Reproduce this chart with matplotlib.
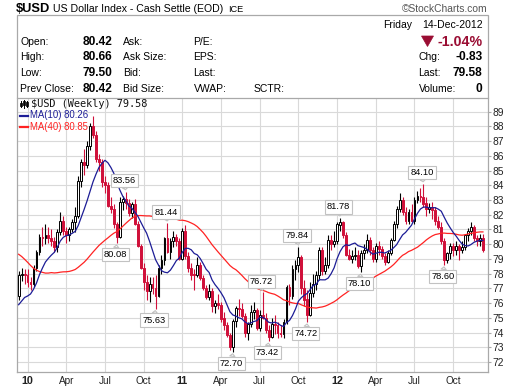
import matplotlib
matplotlib.use('Agg')
import matplotlib.pyplot as plt
import numpy as np
import pandas as pd
from matplotlib.patches import Rectangle, Polygon
from matplotlib.lines import Line2D

plt.rcParams['font.family'] = ['Liberation Sans', 'DejaVu Sans']

W, H = 516, 389

# ---------------- data (weekly candles, Monday-dated) ----------------
start_date = '2009-12-14'

opens = [76.5, 77.9, 78.0, 77.9, 77.4, 77.3, 78.4, 79.5, 80.5, 80.4,
         80.6, 80.4, 80.2, 79.8, 80.8, 81.6, 80.9, 80.6, 81.0, 81.5,
         81.9, 84.3, 85.6, 85.4, 86.7, 88.0, 87.4, 85.8, 85.6, 84.2,
         84.0, 82.6, 82.4, 81.4, 80.5, 82.9, 83.1, 82.8, 82.1, 82.7,
         81.4, 79.9, 78.4, 77.4, 76.8, 77.3, 77.0, 76.5, 78.4, 78.9,
         80.4, 79.5, 80.2, 80.5, 80.2, 79.0, 80.9, 79.2, 78.4, 78.0,
         77.9, 78.6, 77.7, 77.0, 76.4, 76.8, 75.8, 76.0, 75.9, 75.0,
         74.5, 73.8, 73.0, 74.8, 75.7, 75.6, 75.1, 74.0, 74.6, 75.4,
         75.5, 74.3, 75.2, 75.0, 74.2, 73.7, 74.6, 74.5, 74.0, 73.9,
         74.7, 77.1, 76.5, 78.3, 78.6, 79.1, 77.0, 76.3, 75.2, 76.7,
         77.3, 77.9, 79.6, 78.2, 78.6, 80.3, 80.0, 80.2, 81.3, 81.5,
         80.6, 79.3, 79.0, 79.2, 79.3, 78.5, 79.4, 79.6, 80.3, 79.6,
         79.0, 79.9, 79.7, 79.2, 78.8, 79.4, 80.3, 81.4, 82.4, 83.0,
         82.2, 81.6, 82.2, 81.6, 83.0, 83.3, 83.2, 82.8, 82.4, 82.5,
         82.3, 81.6, 81.2, 80.2, 78.9, 79.4, 79.9, 79.6, 79.9, 79.6,
         79.8, 80.6, 80.9, 81.2, 80.4, 80.2, 80.42]

highs = [78.2, 78.4, 78.3, 78.3, 77.8, 78.6, 79.6, 80.7, 81.2, 81.4,
         81.2, 81.0, 80.5, 81.0, 82.2, 81.9, 81.2, 81.2, 81.7, 82.5,
         84.6, 85.8, 86.5, 87.0, 88.2, 88.71, 87.7, 86.1, 85.8, 84.6,
         84.2, 83.2, 82.7, 81.5, 83.2, 83.3, 83.56, 83.1, 82.9, 83.1,
         81.6, 80.0, 78.7, 77.9, 77.8, 77.8, 77.9, 78.6, 79.3, 80.5,
         81.44, 80.4, 80.9, 80.7, 80.4, 81.1, 81.3, 79.5, 78.7, 78.3,
         79.1, 78.8, 77.9, 77.2, 77.3, 77.0, 76.2, 76.6, 76.1, 75.4,
         74.7, 74.0, 74.9, 75.8, 76.3, 76.0, 75.3, 74.7, 75.9, 76.1,
         75.7, 75.5, 76.72, 75.3, 74.5, 75.0, 75.2, 74.7, 74.5, 74.9,
         77.2, 77.3, 78.6, 78.9, 79.84, 79.3, 77.6, 76.9, 77.4, 78.0,
         78.2, 79.8, 79.8, 79.1, 80.6, 80.6, 80.9, 81.5, 81.78, 81.6,
         80.8, 79.7, 79.6, 79.8, 79.6, 79.6, 80.0, 80.7, 80.5, 79.8,
         80.1, 80.2, 79.9, 79.4, 79.6, 80.4, 81.6, 82.6, 83.5, 83.2,
         82.5, 82.4, 82.7, 83.2, 83.6, 83.8, 84.10, 83.2, 82.8, 82.9,
         82.5, 81.9, 81.5, 80.4, 79.5, 80.1, 80.1, 80.2, 80.0, 80.2,
         80.7, 81.1, 81.5, 81.3, 80.6, 80.7, 80.66]

lows = [76.2, 77.5, 77.3, 77.1, 76.9, 77.1, 78.2, 79.3, 79.9, 80.0,
        80.1, 79.9, 79.5, 79.5, 80.6, 80.6, 80.1, 80.2, 80.8, 80.8,
        81.8, 83.9, 84.7, 85.2, 86.4, 87.2, 85.6, 85.0, 83.9, 83.5,
        82.5, 82.1, 81.1, 80.08, 80.4, 82.3, 82.4, 81.9, 81.8, 81.3,
        79.8, 78.3, 76.9, 76.2, 76.1, 76.6, 75.63, 76.4, 78.0, 78.6,
        79.4, 79.0, 79.8, 79.9, 78.9, 78.9, 79.0, 78.1, 77.6, 76.9,
        77.8, 77.6, 76.9, 76.3, 76.2, 75.4, 75.3, 75.6, 74.7, 74.2,
        73.7, 72.8, 72.70, 74.4, 75.1, 75.0, 73.7, 73.5, 74.4, 74.9,
        74.2, 74.1, 74.9, 74.0, 73.42, 73.6, 73.9, 73.6, 73.7, 73.6,
        74.6, 75.9, 76.3, 77.6, 78.1, 76.6, 75.8, 74.72, 75.1, 76.4,
        76.9, 77.6, 77.9, 78.0, 78.4, 79.6, 79.8, 80.0, 80.9, 80.4,
        79.2, 78.9, 78.7, 78.9, 78.4, 78.10, 79.0, 79.4, 79.3, 78.8,
        78.8, 79.3, 79.0, 78.6, 78.7, 79.3, 80.2, 81.1, 82.2, 82.0,
        81.4, 81.4, 81.5, 81.4, 82.8, 82.9, 82.5, 81.9, 82.1, 81.7,
        81.3, 81.0, 80.0, 78.60, 78.7, 79.0, 79.2, 79.3, 78.9, 79.4,
        79.6, 80.2, 80.6, 80.2, 79.9, 79.9, 79.50]

closes = [77.9, 78.0, 77.9, 77.4, 77.3, 78.4, 79.5, 80.5, 80.4, 80.6,
          80.4, 80.2, 79.8, 80.8, 81.6, 80.9, 80.6, 81.0, 81.5, 81.9,
          84.3, 85.6, 85.4, 86.7, 88.0, 87.4, 85.8, 85.6, 84.2, 84.0,
          82.6, 82.4, 81.4, 80.5, 82.9, 83.1, 82.8, 82.1, 82.7, 81.4,
          79.9, 78.4, 77.4, 76.8, 77.3, 77.0, 76.5, 78.4, 78.9, 80.4,
          79.5, 80.2, 80.5, 80.2, 79.0, 80.9, 79.2, 78.4, 77.9, 77.9,
          78.6, 77.7, 77.0, 76.4, 76.8, 75.8, 76.0, 75.9, 74.9, 74.5,
          73.8, 73.0, 74.8, 75.7, 75.6, 75.1, 74.0, 74.6, 75.4, 75.5,
          74.3, 75.2, 75.0, 74.2, 73.7, 74.6, 74.5, 74.0, 73.9, 74.7,
          77.1, 76.5, 78.3, 78.6, 79.1, 77.0, 76.2, 75.2, 76.7, 77.3,
          77.9, 79.6, 78.2, 78.6, 80.3, 80.0, 80.2, 81.4, 81.5, 80.6,
          79.3, 79.0, 79.2, 79.3, 78.5, 79.4, 79.6, 80.3, 79.6, 79.0,
          79.9, 79.7, 79.2, 78.8, 79.4, 80.3, 81.4, 82.4, 83.0, 82.2,
          81.6, 82.2, 81.6, 83.0, 83.3, 83.2, 82.7, 82.4, 82.5, 82.3,
          81.6, 81.2, 80.2, 78.9, 79.4, 79.9, 79.6, 79.9, 79.6, 79.8,
          80.6, 80.9, 81.2, 80.4, 80.2, 80.4, 79.58]

# weekly closes before the visible window (needed for the moving averages)
prior_closes = [84.0, 85.5, 85.5, 86.0, 86.0, 84.8, 84.3, 82.3, 82.8, 80.3,
                79.0, 80.7, 80.1, 80.2, 80.0, 80.4, 80.0, 79.3, 78.9, 78.4,
                78.7, 78.6, 78.1, 78.3, 77.9, 76.8, 76.6, 77.0, 77.0, 76.3,
                75.6, 75.4, 76.4, 75.9, 75.2, 75.3, 74.8, 75.9, 76.5]

# labelled swing points
swing_idx = [33, 36, 46, 50, 72, 82, 84, 94, 97, 108, 115, 136, 143]
swing_val = [80.08, 83.56, 75.63, 81.44, 72.70, 76.72, 73.42, 79.84, 74.72, 81.78, 78.10, 84.10, 78.60]
swing_kind = ['low', 'high', 'low', 'high', 'low', 'high', 'low', 'high', 'low', 'high', 'low', 'high', 'low']

quarter_labels = {4: 'Apr', 7: 'Jul', 10: 'Oct'}
y_ticks = list(range(72, 90))

# header quote values
hdr_left = [('Open:', '80.42', 'Ask:', 'P/E:', ''),
            ('High:', '80.66', 'Ask Size:', 'EPS:', ''),
            ('Low:', '79.50', 'Bid:', 'Last:', ''),
            ('Prev Close:', '80.42', 'Bid Size:', 'VWAP:', 'SCTR:')]
hdr_right = [('Chg:', '-0.83'), ('Last:', '79.58'), ('Volume:', '0')]
pct_change = '-1.04%'
date_text = ('Friday', '14-Dec-2012')
legend_main = '$USD (Weekly) 79.58'
legend_ma10 = 'MA(10) 80.26'
legend_ma40 = 'MA(40) 80.85'

# ---------------- figure ----------------
fig = plt.figure(figsize=(W / 100, H / 100), dpi=100)
fig.patch.set_facecolor('white')


def fx(x):
    return x / W


def fy(y):
    return 1 - y / H


RED = '#d0103a'
NAVY = '#1c1c96'
MARED = '#ff2222'
GRID = '#d9d9d9'
FRAME = '#a9a9a9'

ax = fig.add_axes([fx(17), fy(372), (488 - 17) / W, (372 - 98) / H])

o = np.array(opens)
h = np.array(highs)
l = np.array(lows)
c = np.array(closes)
n = len(c)
x = np.arange(n)
dates = pd.date_range(start_date, periods=n, freq='W-MON')

allc = pd.Series(prior_closes + closes)
ma10 = allc.rolling(10).mean().values[-n:]
ma40 = allc.rolling(40).mean().values[-n:]

up = c >= o
ax.vlines(x[up], l[up], h[up], color='black', lw=0.8, zorder=2)
ax.vlines(x[~up], l[~up], h[~up], color=RED, lw=0.8, zorder=2)
body_up = np.maximum(c[up] - o[up], 0.04)
body_dn = np.maximum(o[~up] - c[~up], 0.04)
ax.bar(x[up], body_up, bottom=o[up], width=0.62, facecolor='white',
       edgecolor='black', linewidth=0.7, zorder=3)
ax.bar(x[~up], body_dn, bottom=c[~up], width=0.62, facecolor=RED,
       edgecolor=RED, linewidth=0.7, zorder=3)

ax.plot(x, ma40, color=MARED, lw=0.9, zorder=4)
ax.plot(x, ma10, color=NAVY, lw=0.9, zorder=4)

# swing labels
for i, v, k in zip(swing_idx, swing_val, swing_kind):
    dy = 11 if k == 'high' else -11.5
    ax.annotate(f'{v:.2f}', xy=(i, v), xytext=(-1.5, dy), textcoords='offset pixels',
                ha='center', va='center', fontsize=6.7, color='black', zorder=6,
                bbox=dict(boxstyle='square,pad=0.22', fc='white', ec='#c2c2c2', lw=0.8),
                arrowprops=dict(arrowstyle='wedge,tail_width=0.55,shrink_factor=0.5',
                                fc='white', ec='#c2c2c2', lw=0.8, shrinkA=0, shrinkB=1.5))

ax.set_xlim(-0.55, 157.7)
ax.set_ylim(71.32, 89.93)

# x ticks at first week of each quarter
tick_pos, tick_lab = [], []
for i in range(1, n):
    d = dates[i]
    if d.month != dates[i - 1].month and d.month in (1, 4, 7, 10):
        tick_pos.append(i)
        tick_lab.append(d.strftime('%y') if d.month == 1 else quarter_labels[d.month])
ax.set_xticks(tick_pos)
ax.set_xticklabels(tick_lab, fontsize=7.2, color='#222222')
for t, lab in zip(ax.get_xticklabels(), tick_lab):
    if lab.isdigit():
        t.set_fontweight('bold')
        t.set_fontsize(7.8)
ax.tick_params(axis='x', length=0, pad=3)

ax.yaxis.tick_right()
ax.set_yticks(y_ticks)
ax.set_yticklabels([str(t) for t in y_ticks], fontsize=7.4, color='#222222')
ax.tick_params(axis='y', length=2.5, width=0.8, color=FRAME, pad=1.0)

ax.grid(True, color=GRID, lw=0.8)
ax.set_axisbelow(True)
for s in ax.spines.values():
    s.set_color(FRAME)
    s.set_linewidth(0.9)
ax.spines['bottom'].set_linestyle((0, (1, 1)))
ax.spines['top'].set_visible(False)

# legend (inside plot, top-left)
ic = [(21, 101, 107, 103, 106), (24, 100, 108, 101.5, 105), (27, 101, 107, 102, 106)]
for xx, y0, y1, b0, b1 in ic:
    fig.add_artist(Line2D([fx(xx), fx(xx)], [fy(y0), fy(y1)], color='black', lw=0.7))
    fig.add_artist(Rectangle((fx(xx - 0.9), fy(b1)), 1.8 / W, (b1 - b0) / H,
                             fc='white', ec='black', lw=0.6))
fig.text(fx(31), fy(104), legend_main, fontsize=7.4, family='DejaVu Sans Mono',
         va='center', ha='left', color='#111111')
fig.add_artist(Line2D([fx(20), fx(28)], [fy(115.5), fy(115.5)], color=NAVY, lw=1.6))
fig.text(fx(30), fy(115.5), legend_ma10, fontsize=6.9,
         va='center', ha='left', color=NAVY)
fig.add_artist(Line2D([fx(20), fx(28)], [fy(126.5), fy(126.5)], color=MARED, lw=1.6))
fig.text(fx(30), fy(126.5), legend_ma40, fontsize=6.9,
         va='center', ha='left', color=MARED)

# ---------------- header ----------------
fig.text(fx(16), fy(9), '$USD', fontsize=9.3, fontweight='bold', va='center', ha='left')
fig.text(fx(53), fy(9), 'US Dollar Index - Cash Settle (EOD)', fontsize=7.6,
         va='center', ha='left')
fig.text(fx(228), fy(9.5), 'ICE', fontsize=6.6, va='center', ha='left')
fig.text(fx(488), fy(8.5), '\u00a9StockCharts.com', fontsize=7.4, color='#555555',
         va='center', ha='right')

fig.add_artist(Rectangle((fx(16.5), fy(98)), (488 - 16.5) / W, (98 - 14.5) / H,
                         fc='none', ec=FRAME, lw=0.9))

rows_y = [41.7, 57.3, 72.8, 88.8]
for (lab, val, c2, c3, c4), yy in zip(hdr_left, rows_y):
    fig.text(fx(20.5), fy(yy), lab, fontsize=7.5, va='center', ha='left')
    fig.text(fx(112.5), fy(yy), val, fontsize=8.6, fontweight='bold', va='center', ha='right')
    fig.text(fx(123), fy(yy), c2, fontsize=7.5, va='center', ha='left')
    fig.text(fx(193.5), fy(yy), c3, fontsize=7.5, va='center', ha='left')
    if c4:
        fig.text(fx(253.5), fy(yy), c4, fontsize=7.5, va='center', ha='left')

fig.text(fx(383), fy(25), date_text[0], fontsize=7.5, va='center', ha='left')
fig.text(fx(482.5), fy(25), date_text[1], fontsize=7.5, va='center', ha='right')

DARKRED = '#9a0d33'
fig.add_artist(Polygon([(fx(421.5), fy(36)), (fx(433.5), fy(36)), (fx(427.5), fy(46.5))],
                       closed=True, fc=DARKRED, ec=DARKRED, lw=0.5))
fig.text(fx(482.5), fy(41.7), pct_change, fontsize=10.2, fontweight='bold',
         color=DARKRED, va='center', ha='right')
for (lab, val), yy in zip(hdr_right, rows_y[1:]):
    fig.text(fx(418.5), fy(yy), lab, fontsize=7.5, va='center', ha='left')
    fig.text(fx(482.5), fy(yy), val, fontsize=8.6, fontweight='bold', va='center', ha='right')

fig.savefig('out.png', dpi=100)
